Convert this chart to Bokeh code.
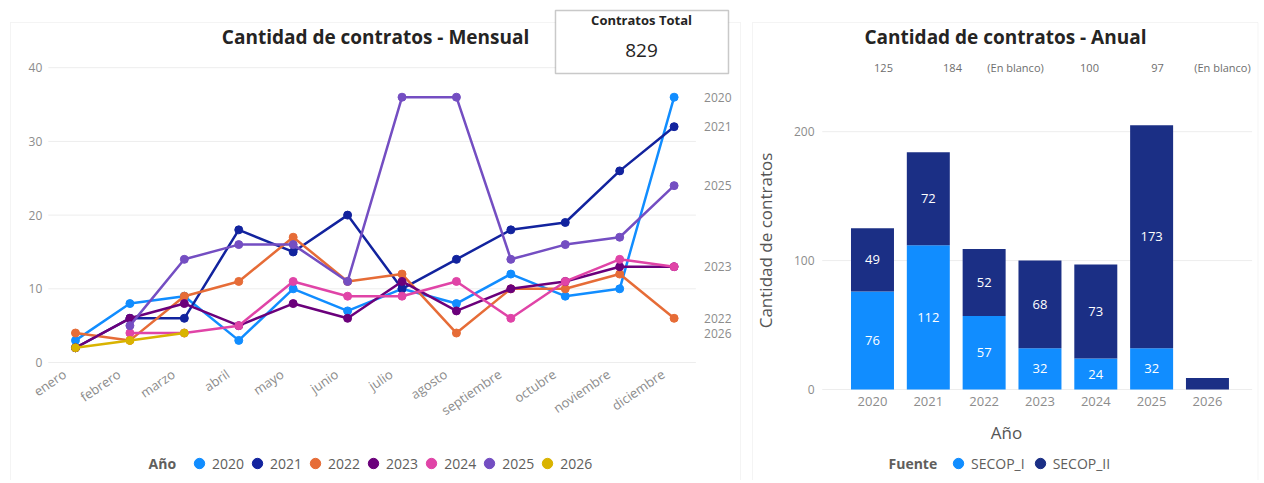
from bokeh.plotting import figure
from bokeh.models import (Range1d, FixedTicker, Label, Legend, LegendItem,
                          BoxAnnotation, ColumnDataSource)
from bokeh.layouts import row
from bokeh.embed import file_html
from bokeh.resources import INLINE
from bokeh.core.properties import value

# ---------------- data ----------------
months = ["enero", "febrero", "marzo", "abril", "mayo", "junio", "julio",
          "agosto", "septiembre", "octubre", "noviembre", "diciembre"]
line_years = ["2020", "2021", "2022", "2023", "2024", "2025", "2026"]
c2020 = [3, 8, 9, 3, 10, 7, 10, 8, 12, 9, 10, 36]
c2021 = [2, 6, 6, 18, 15, 20, 10, 14, 18, 19, 26, 32]
c2022 = [4, 3, 9, 11, 17, 11, 12, 4, 10, 10, 12, 6]
c2023 = [2, 6, 8, 5, 8, 6, 11, 7, 10, 11, 13, 13]
c2024 = [None, 4, 4, 5, 11, 9, 9, 11, 6, 11, 14, 13]
c2025 = [None, 5, 14, 16, 16, 11, 36, 36, 14, 16, 17, 24]
c2026 = [2, 3, 4]
end_label_years = ["2020", "2021", "2025", "2023", "2022", "2026"]
line_yticks = [0, 10, 20, 30, 40]

bar_years = ["2020", "2021", "2022", "2023", "2024", "2025", "2026"]
secop_i = [76, 112, 57, 32, 24, 32, 0]
secop_ii = [49, 72, 52, 68, 73, 173, 9]
bar_yticks = [0, 100, 200]
top_labels = ["125", "184", "(En blanco)", "100", "97", "(En blanco)"]
total_contratos = "829"

FONT = "Open Sans"
palette = {"2020": "#118DFF", "2021": "#12239E", "2022": "#E66C37", "2023": "#6B007B",
           "2024": "#E044A7", "2025": "#744EC2", "2026": "#D9B300"}
series = {"2020": c2020, "2021": c2021, "2022": c2022, "2023": c2023,
          "2024": c2024, "2025": c2025, "2026": c2026}
TICK = "#8C8C8C"
DARK = "#252423"
GRID = "#EDEDED"
PANEL = "#DCDCDC"
H = 480


def style_axis(ax, size):
    ax.axis_line_color = None
    ax.major_tick_line_color = None
    ax.minor_tick_line_color = None
    ax.major_tick_out = 0
    ax.major_tick_in = 0
    ax.major_label_text_color = TICK
    ax.major_label_text_font = FONT
    ax.major_label_text_font_size = size


# ---------------- left: monthly lines ----------------
p1 = figure(width=746, height=H, x_range=Range1d(-1.378, 12.330),
            y_range=Range1d(-16.01, 49.12), output_backend="svg", toolbar_location=None,
            min_border=0)
p1.background_fill_color = "white"
p1.border_fill_color = "white"
p1.outline_line_color = None
p1.grid.visible = False

xa = p1.xaxis[0]
ya = p1.yaxis[0]
style_axis(xa, "13px")
style_axis(ya, "12px")
# slanted month labels end slightly left of each month's point (as in Power BI)
month_ticks = [round(i - 0.2, 2) for i in range(len(months))]
xa.ticker = FixedTicker(ticks=month_ticks)
xa.major_label_overrides = {t: m for t, m in zip(month_ticks, months)}
xa.major_label_orientation = 0.6
xa.fixed_location = 0
xa.major_label_standoff = 10
ya.ticker = FixedTicker(ticks=line_yticks)
ya.fixed_location = -0.5
ya.major_label_standoff = 6

p1.segment(x0=[-0.5] * len(line_yticks), x1=[11.4] * len(line_yticks),
           y0=line_yticks, y1=line_yticks, line_color=GRID, line_width=1)

p1.add_layout(BoxAnnotation(left=-1.194, right=12.220, top=46.13, bottom=-20,
                            fill_color=None, fill_alpha=0, line_color=PANEL, line_width=1))

items = []
for yr in line_years:
    vals = series[yr]
    xs = [i for i, v in enumerate(vals) if v is not None]
    ys = [v for v in vals if v is not None]
    src = ColumnDataSource(dict(x=xs, y=ys))
    p1.line("x", "y", source=src, line_color=palette[yr], line_width=2.5)
    r = p1.scatter("x", "y", source=src, size=8, color=palette[yr])
    items.append(LegendItem(label=yr, renderers=[r]))

leg1 = Legend(items=items, orientation="horizontal", location=(186, 4),
              glyph_width=26, glyph_height=26, label_standoff=-5, spacing=0,
              padding=0, margin=0, background_fill_alpha=0, border_line_color=None,
              label_text_font=FONT, label_text_font_size="14px", label_text_color="#605E5C")
p1.add_layout(leg1)
p1.add_layout(Label(x=1.342, y=-13.7, text="Año", text_align="left",
                    text_baseline="middle", text_font=FONT, text_font_style="bold",
                    text_font_size="14px", text_color="#605E5C"))

# series end labels (at the last value of each year)
for yr in end_label_years:
    vals = [v for v in series[yr] if v is not None]
    p1.add_layout(Label(x=len(months) - 1, y=vals[-1], x_offset=30, text=yr,
                        text_align="left", text_baseline="middle", text_font=FONT,
                        text_font_size="12px", text_color=TICK))

p1.add_layout(Label(x=5.513, y=44.10, text="Cantidad de contratos - Mensual", text_align="center",
                    text_baseline="middle", text_font=FONT, text_font_style="bold",
                    text_font_size="19px", text_color=DARK))
p1.add_layout(BoxAnnotation(left=8.820, right=11.999, top=47.76, bottom=39.21,
                            fill_color="white", fill_alpha=1, line_color="#4D4D4D",
                            line_width=1.5, level="overlay"))
p1.add_layout(Label(x=10.401, y=46.54, text="Contratos Total", text_align="center",
                    text_baseline="middle", text_font=FONT, text_font_style="bold",
                    text_font_size="13px", text_color=DARK, level="overlay"))
p1.add_layout(Label(x=10.401, y=42.33, text=total_contratos, text_align="center",
                    text_baseline="middle", text_font=FONT,
                    text_font_size="19px", text_color=DARK, level="overlay"))

# ---------------- right: annual stacked bars ----------------
p2 = figure(width=512, height=H, x_range=Range1d(-2.185, 6.986),
            y_range=Range1d(-70.6, 301.78), output_backend="svg", toolbar_location=None,
            min_border=0)
p2.background_fill_color = "white"
p2.border_fill_color = "white"
p2.outline_line_color = None
p2.grid.visible = False

xb = p2.xaxis[0]
yb = p2.yaxis[0]
style_axis(xb, "13px")
style_axis(yb, "12px")
for ax in (xb, yb):
    ax.axis_label_text_font = FONT
    ax.axis_label_text_font_style = "normal"
    ax.axis_label_text_font_size = "17px"
    ax.axis_label_text_color = "#555555"
xb.ticker = FixedTicker(ticks=list(range(len(bar_years))))
xb.major_label_overrides = {i: y for i, y in enumerate(bar_years)}
xb.fixed_location = 0
xb.major_label_standoff = 8
xb.axis_label = "Año"
xb.axis_label_standoff = 11
yb.ticker = FixedTicker(ticks=bar_yticks)
yb.fixed_location = -0.68
yb.major_label_standoff = 20
yb.axis_label = "Cantidad de contratos"
yb.axis_label_standoff = 14

p2.segment(x0=[-0.9] * len(bar_yticks), x1=[6.8] * len(bar_yticks),
           y0=bar_yticks, y1=bar_yticks, line_color=GRID, line_width=1)
p2.add_layout(BoxAnnotation(left=-2.149, right=6.905, top=284.7, bottom=-80,
                            fill_color=None, fill_alpha=0, line_color=PANEL, line_width=1))

C1, C2 = "#118DFF", "#1B2F85"
bsrc = ColumnDataSource(dict(x=list(range(len(bar_years))), secop_i=secop_i, secop_ii=secop_ii))
p2.vbar_stack(["secop_i", "secop_ii"], x="x", width=0.77, color=[C1, C2],
              line_color=None, source=bsrc)

lx, ly, lt = [], [], []
for i, (a, b) in enumerate(zip(secop_i, secop_ii)):
    if a >= 20:
        lx.append(i); ly.append(a / 2); lt.append(str(a))
    if b >= 20:
        lx.append(i); ly.append(a + b / 2); lt.append(str(b))
p2.text(x=lx, y=ly, text=lt, text_color="white", text_align="center", text_baseline="middle",
        text_font=value(FONT), text_font_size="13px")

# legend swatches (kept off-screen, used only by the legend)
d1 = p2.scatter(x=[-50], y=[-5000], color=C1)
d2 = p2.scatter(x=[-50], y=[-5000], color=C2)
leg2 = Legend(items=[LegendItem(label="SECOP_I", renderers=[d1]),
                     LegendItem(label="SECOP_II", renderers=[d2])],
              orientation="horizontal", location=(195, 4),
              glyph_width=26, glyph_height=26, label_standoff=-5, spacing=2,
              padding=0, margin=0, background_fill_alpha=0, border_line_color=None,
              label_text_font=FONT, label_text_font_size="14px", label_text_color="#605E5C")
p2.add_layout(leg2)
p2.add_layout(Label(x=0.287, y=-57.4, text="Fuente", text_align="left",
                    text_baseline="middle", text_font=FONT, text_font_style="bold",
                    text_font_size="14px", text_color="#605E5C"))
p2.add_layout(Label(x=2.382, y=273.1, text="Cantidad de contratos - Anual", text_align="center",
                    text_baseline="middle", text_font=FONT, text_font_style="bold",
                    text_font_size="19px", text_color=DARK))
for xv, t in zip([0.197, 1.433, 2.562, 3.887, 5.105, 6.269], top_labels):
    p2.add_layout(Label(x=xv, y=249.8, text=t, text_align="center", text_baseline="middle",
                        text_font=FONT, text_font_size="11px", text_color="#6E6E6E"))

layout = row(p1, p2, spacing=4)
open("out.html", "w").write(file_html(layout, INLINE))
